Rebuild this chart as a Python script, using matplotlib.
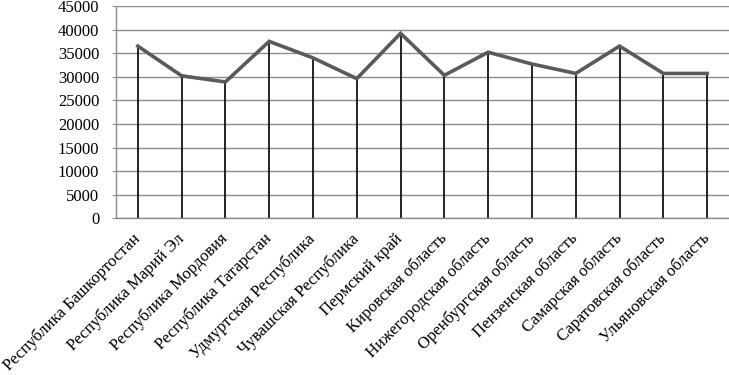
import matplotlib.pyplot as plt

regions = [
    "Республика Башкортостан",
    "Республика Марий Эл",
    "Республика Мордовия",
    "Республика Татарстан",
    "Удмуртская Республика",
    "Чувашская Республика",
    "Пермский край",
    "Кировская область",
    "Нижегородская область",
    "Оренбургская область",
    "Пензенская область",
    "Самарская область",
    "Саратовская область",
    "Ульяновская область",
]
values = [36500, 30200, 28900, 37500, 34000, 29600, 39200,
          30300, 35200, 32700, 30700, 36500, 30700, 30700]
yticks = list(range(0, 45001, 5000))

plt.rcParams["font.family"] = ["Liberation Serif", "DejaVu Serif"]

fig = plt.figure(figsize=(7.29, 3.75), dpi=100)
ax = fig.add_axes([0.159, 0.418, 0.841, 0.566])

x = list(range(len(regions)))
ax.set_axisbelow(True)
ax.yaxis.grid(True, color="#8c8c8c", linewidth=1.0)
ax.vlines(x, 0, values, color="black", linewidth=1.2, zorder=2)
ax.plot(x, values, color="#5a5a5a", linewidth=2.6, zorder=3,
        solid_joinstyle="miter")

ax.set_xlim(-0.5, len(regions) - 0.5)
ax.set_ylim(0, 45000)
ax.set_yticks(yticks)
ax.set_yticklabels([str(v) for v in yticks], fontsize=12)
ax.set_xticks(x)
ax.set_xticklabels(regions, rotation=45, ha="right", va="center",
                   rotation_mode="anchor", fontsize=12)
ax.tick_params(axis="x", length=0, pad=13)
ax.tick_params(axis="y", length=3, color="#8c8c8c", pad=9)

for side in ["top", "right"]:
    ax.spines[side].set_visible(False)
for side in ["left", "bottom"]:
    ax.spines[side].set_color("#8c8c8c")
    ax.spines[side].set_linewidth(1.0)

fig.savefig("out.png", dpi=100)
plt.close(fig)
